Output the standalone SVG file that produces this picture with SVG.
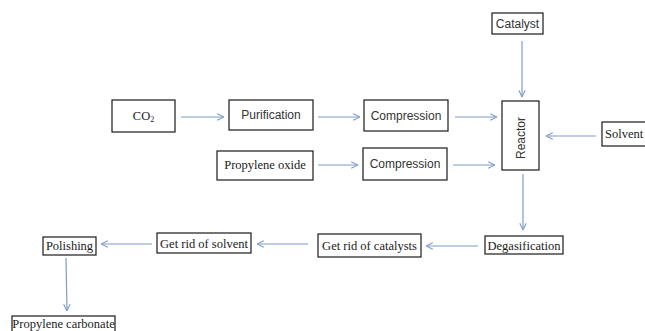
<svg xmlns="http://www.w3.org/2000/svg" width="645" height="331" viewBox="0 0 645 331">
<defs>
<style>
.box{fill:#fff;stroke:#1a1a1a;stroke-width:1.2}
.sans{font-family:"Liberation Sans",Arial,sans-serif;font-size:12px;fill:#333;text-anchor:middle}
.serif{font-family:"Liberation Serif","Times New Roman",serif;font-size:12.5px;fill:#1a1a1a;text-anchor:middle}
.con{stroke:#7f9cc8;stroke-width:1.2;fill:none;marker-end:url(#arr)}
</style>
<marker id="arr" viewBox="0 0 10 10" refX="9.5" refY="5" markerWidth="8" markerHeight="8" markerUnits="userSpaceOnUse" orient="auto">
<polyline points="1,1 9.5,5 1,9" fill="none" stroke="#7f9cc8" stroke-width="1.4"/>
</marker>
</defs>
<rect width="645" height="331" fill="#fff"/>
<g id="connectors">
<line class="con" x1="181" y1="117" x2="224" y2="117"/>
<line class="con" x1="318" y1="117" x2="360" y2="117"/>
<line class="con" x1="318" y1="165" x2="358" y2="165"/>
<line class="con" x1="455" y1="117" x2="497" y2="117"/>
<line class="con" x1="453" y1="165" x2="495" y2="165"/>
<line class="con" x1="522" y1="41" x2="522" y2="97"/>
<line class="con" x1="596" y1="136" x2="546" y2="136"/>
<line class="con" x1="523" y1="174" x2="523" y2="230"/>
<line class="con" x1="478" y1="246" x2="426" y2="246"/>
<line class="con" x1="308" y1="244" x2="257" y2="244"/>
<line class="con" x1="152" y1="244" x2="101" y2="244"/>
<line class="con" x1="66" y1="258" x2="67" y2="311"/>
</g>
<g id="co2"><rect class="box" x="112" y="100" width="63" height="32"/><text class="serif" x="143.5" y="120" font-size="11.5">CO<tspan font-size="8" dy="2">2</tspan></text></g>
<g id="purification"><rect class="box" x="229" y="100" width="84" height="30"/><text class="sans" x="271" y="119">Purification</text></g>
<g id="propylene-oxide"><rect class="box" x="217" y="151" width="96" height="29"/><text class="serif" x="265" y="169">Propylene oxide</text></g>
<g id="compression1"><rect class="box" x="364" y="100" width="84" height="31"/><text class="sans" x="406" y="120">Compression</text></g>
<g id="compression2"><rect class="box" x="363" y="148" width="84" height="32"/><text class="sans" x="405" y="168">Compression</text></g>
<g id="catalyst"><rect class="box" x="492" y="13" width="51" height="21"/><text class="sans" x="517.5" y="28">Catalyst</text></g>
<g id="reactor"><rect class="box" x="502" y="101" width="37" height="69"/><text class="sans" x="0" y="0" transform="translate(524.5 138) rotate(-90)">Reactor</text></g>
<g id="solvent"><rect class="box" x="602" y="122" width="50" height="24"/><text class="serif" x="605" y="138" font-size="10.5" style="text-anchor:start">Solvent</text></g>
<g id="degasification"><rect class="box" x="485" y="236" width="78" height="18"/><text class="serif" x="524" y="249.5">Degasification</text></g>
<g id="get-rid-catalysts"><rect class="box" x="318" y="234" width="103" height="23"/><text class="serif" x="369.5" y="249.5">Get rid of catalysts</text></g>
<g id="get-rid-solvent"><rect class="box" x="157" y="233" width="94" height="20"/><text class="serif" x="204" y="247.5">Get rid of solvent</text></g>
<g id="polishing"><rect class="box" x="43" y="237" width="53" height="18"/><text class="serif" x="69.5" y="250">Polishing</text></g>
<g id="propylene-carbonate"><rect class="box" x="12" y="316" width="103" height="30"/><text class="serif" x="63.5" y="327.5">Propylene carbonate</text></g>
</svg>
